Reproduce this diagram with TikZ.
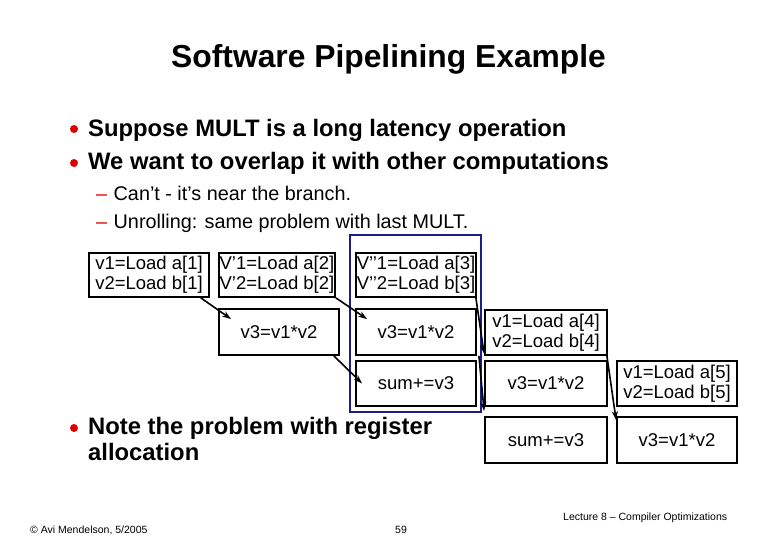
\documentclass[tikz,border=0pt]{standalone}
\usepackage{fontspec}
\setmainfont{Liberation Sans}
\usetikzlibrary{arrows.meta}
\definecolor{slidered}{RGB}{225,0,0}
\definecolor{slideblue}{RGB}{28,28,140}
\begin{document}
\begin{tikzpicture}[x=1pt,y=-1pt,
  opbox/.style={draw=black,line width=1.8pt,fill=white,inner sep=0pt,align=center,
    font=\fontsize{18.5}{20}\selectfont},
  dep/.style={draw=black,line width=1.6pt,-{Stealth[length=9pt,width=6pt]}},
  bultext/.style={anchor=base west,inner sep=0pt,font=\bfseries\fontsize{23.8}{26}\selectfont},
  subtext/.style={anchor=base west,inner sep=0pt,font=\fontsize{19.8}{22}\selectfont},
  foot/.style={anchor=base west,inner sep=0pt,font=\fontsize{10.5}{12}\selectfont},
  bul/.style={fill=slidered}]
\useasboundingbox (0,0) rectangle (780,540);
\fill[white] (0,0) rectangle (780,540);
% title
\node[inner sep=0pt,anchor=base west,font=\bfseries\fontsize{31.8}{36}\selectfont] (title) at (171,67.5) {Software Pipelining Example};
% bullets
\fill[bul] (74,129) circle (4);
\node[bultext] (b1) at (88,137) {Suppose MULT is a long latency operation};
\fill[bul] (74,163) circle (4);
\node[bultext] (b2) at (88,170) {We want to overlap it with other computations};
\node[subtext,text=slidered] (d1) at (96,200.5) {\textendash};
\node[subtext] (s1) at (113.5,200.5) {Can’t - it’s near the branch.};
\node[subtext,text=slidered] (d2) at (96,229) {\textendash};
\node[subtext] (s2) at (113.5,229) {Unrolling: same problem with last MULT.};
\fill[bul] (74,428) circle (4);
\node[bultext] (b3) at (88,434.5) {Note the problem with register};
\node[bultext] (b4) at (88,460) {allocation};
% blue frame
\draw[slideblue,line width=1.8pt] (350,235) rectangle (481,412);
% boxes
\node[opbox,minimum width=120pt,minimum height=44pt] (A) at (149,275) {v1=Load a[1]\\v2=Load b[1]};
\node[opbox,minimum width=116pt,minimum height=44pt] (B) at (277,275) {V’1=Load a[2]\\V’2=Load b[2]};
\node[opbox,minimum width=120pt,minimum height=44pt] (C) at (416,275) {V’’1=Load a[3]\\V’’2=Load b[3]};
\node[opbox,minimum width=120pt,minimum height=46pt] (D) at (279,332) {v3=v1*v2};
\node[opbox,minimum width=120pt,minimum height=46pt] (E) at (416,332) {v3=v1*v2};
\node[opbox,minimum width=120pt,minimum height=45pt] (F) at (416,383.5) {sum+=v3};
\node[opbox,minimum width=122pt,minimum height=45pt] (G) at (546,332.5) {v1=Load a[4]\\v2=Load b[4]};
\node[opbox,minimum width=122pt,minimum height=45pt] (H) at (546,383.5) {v3=v1*v2};
\node[opbox,minimum width=122pt,minimum height=46pt] (I) at (546,440) {sum+=v3};
\node[opbox,minimum width=120pt,minimum height=45pt] (J) at (677,383.5) {v1=Load a[5]\\v2=Load b[5]};
\node[opbox,minimum width=120pt,minimum height=46pt] (K) at (677,440) {v3=v1*v2};
% dependences
\draw[dep] ([xshift=-9pt]A.south east) -- ([xshift=13pt,yshift=-11pt]D.north west);
\draw[dep] (B.south east) -- ([xshift=12pt,yshift=-11pt]E.north west);
\draw[dep] ([xshift=-6pt]D.south east) -- ([xshift=7pt]F.west);
\draw[dep] ([xshift=-1pt]C.south east) -- ([yshift=2pt]G.south west);
\draw[dep] ([xshift=2pt]E.south east) -- ([yshift=5pt]I.north west);
\draw[dep] ([xshift=-1pt]G.south east) -- ([yshift=-4pt]K.north west);
% footer
\node[foot] (lec) at (563,520) {Lecture 8 \textendash{} Compiler Optimizations};
\node[foot] (copy) at (30,533) {© Avi Mendelson, 5/2005};
\node[foot] (page) at (395,533) {59};
\end{tikzpicture}
\end{document}
